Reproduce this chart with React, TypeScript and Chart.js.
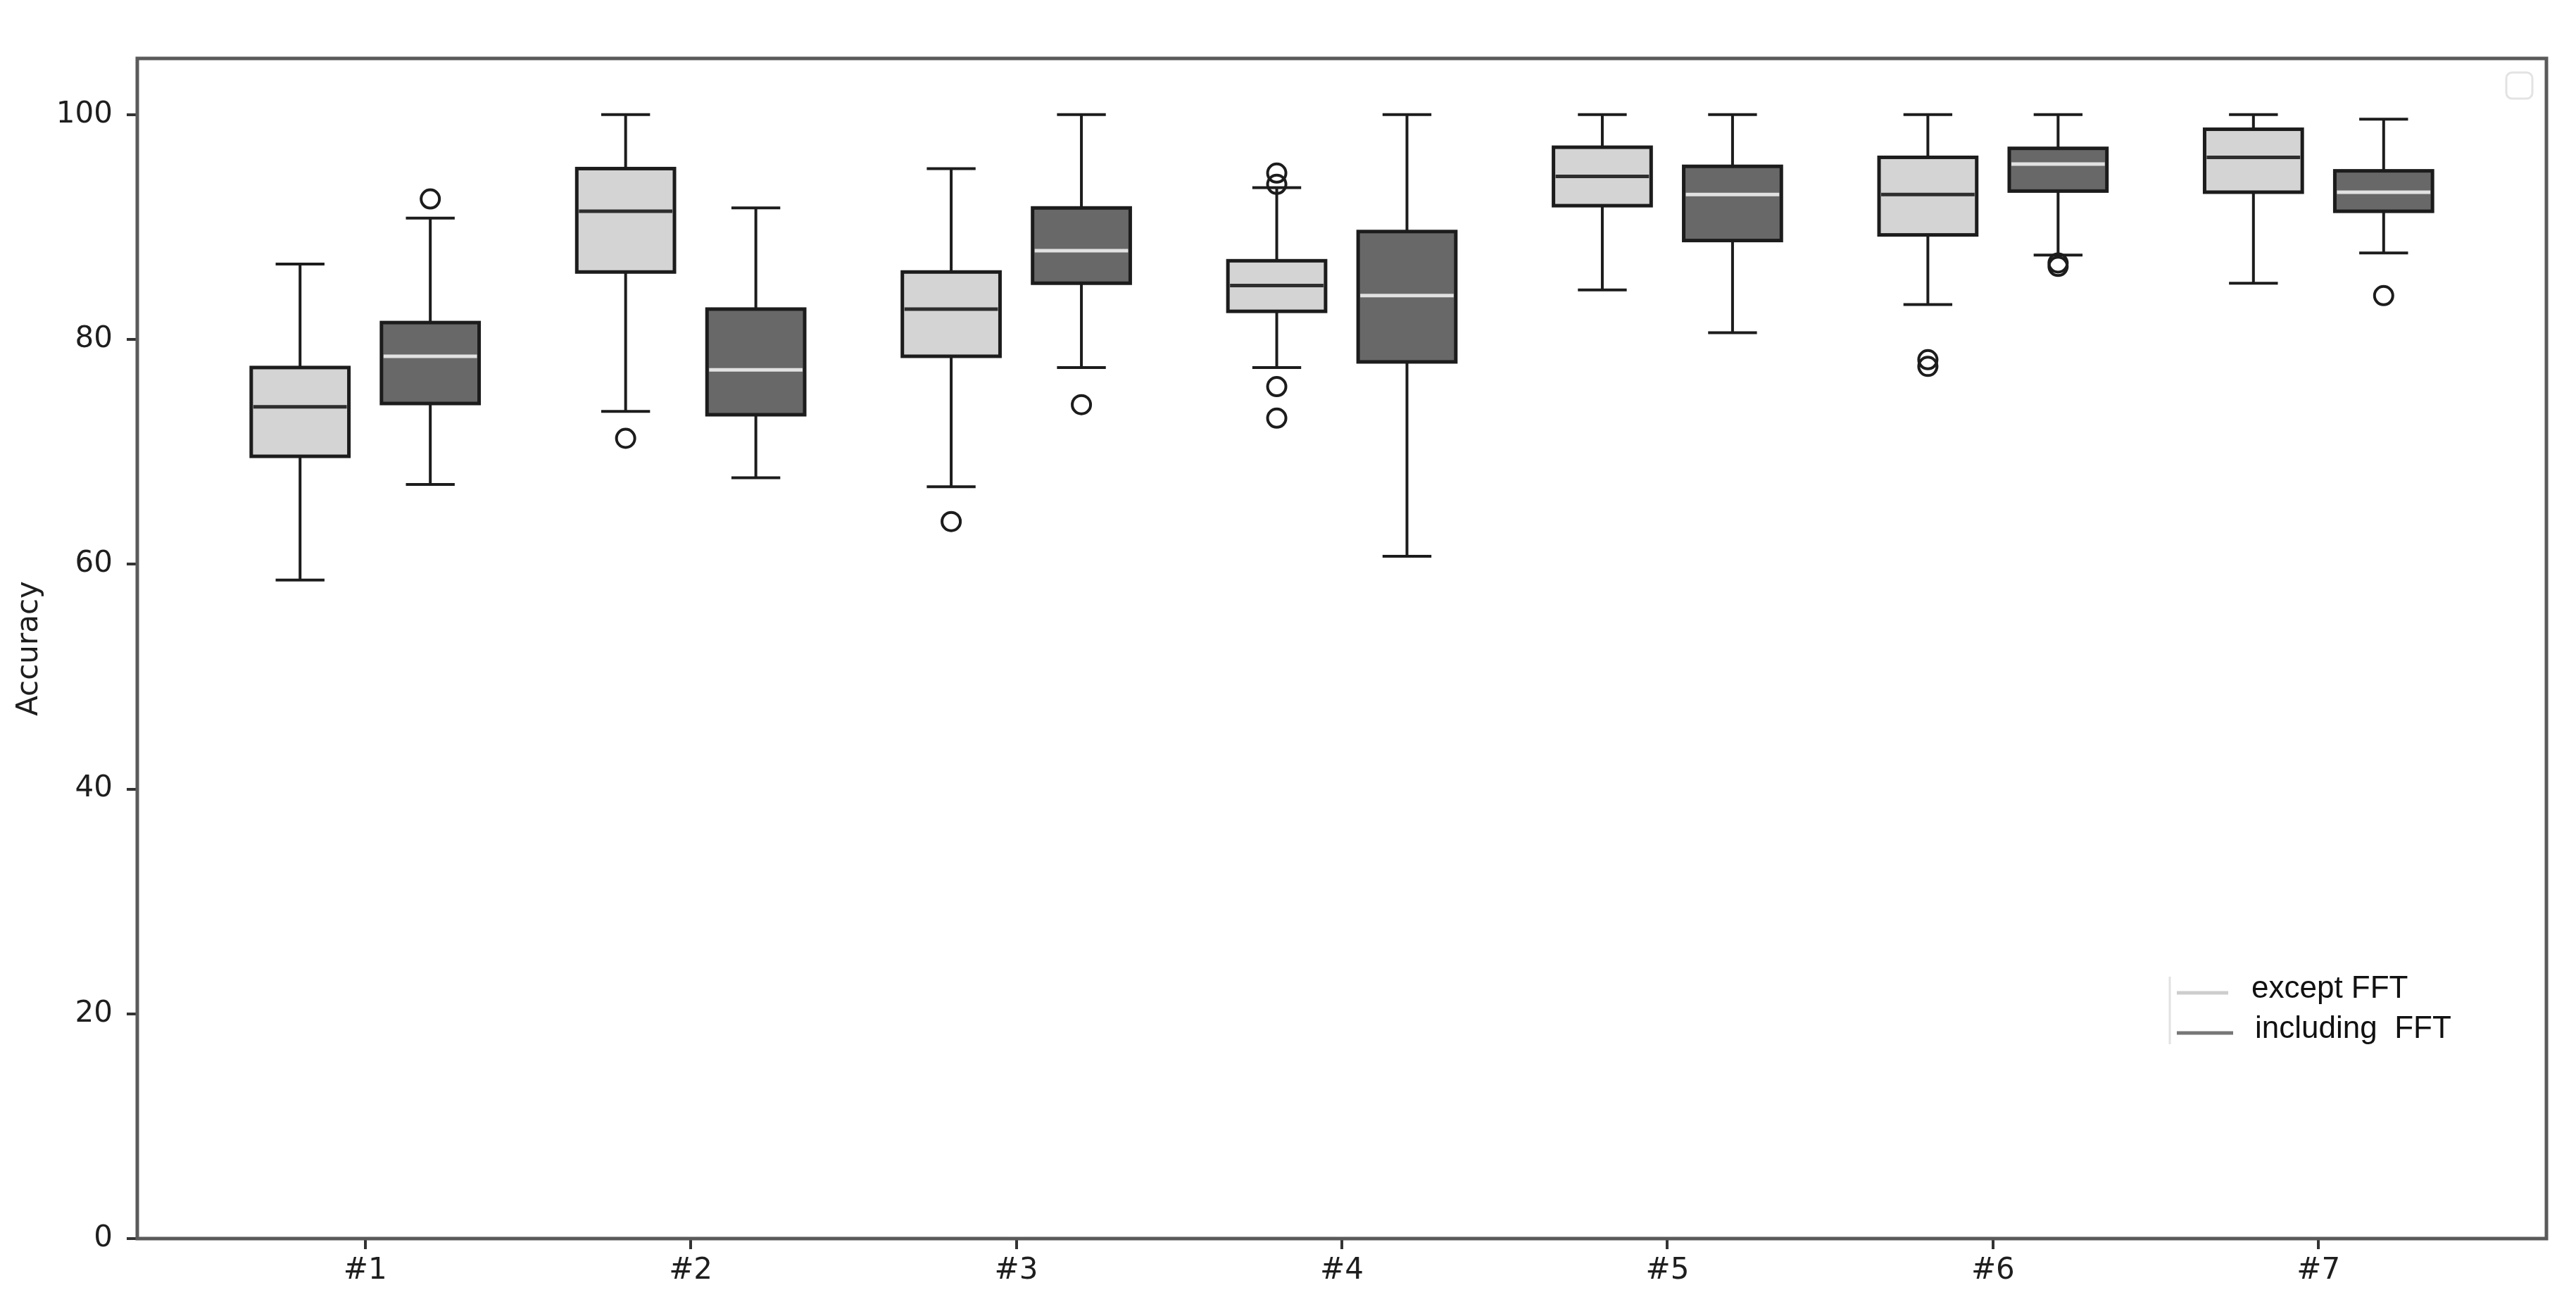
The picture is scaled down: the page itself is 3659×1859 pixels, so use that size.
import { useEffect, useRef } from 'react'
import { Chart, registerables } from 'chart.js'

Chart.register(...registerables)

const categories = ['#1', '#2', '#3', '#4', '#5', '#6', '#7']

// except FFT (light boxes)
const exceptWhiskerLow = [58.6, 73.6, 66.9, 77.5, 84.4, 83.1, 85.0]
const exceptQ1 = [69.6, 86.0, 78.5, 82.5, 91.9, 89.3, 93.1]
const exceptMedian = [74.0, 91.4, 82.7, 84.8, 94.5, 92.9, 96.2]
const exceptQ3 = [77.5, 95.2, 86.0, 87.0, 97.1, 96.2, 98.7]
const exceptWhiskerHigh = [86.7, 100, 95.2, 93.5, 100, 100, 100]
const exceptOutliers = [[], [71.2], [63.8], [94.8, 93.8, 75.8, 73.0], [], [78.2, 77.6], []]

// including FFT (dark boxes)
const includingWhiskerLow = [67.1, 67.7, 77.5, 60.7, 80.6, 87.5, 87.7]
const includingQ1 = [74.3, 73.3, 85.0, 78.0, 88.8, 93.2, 91.4]
const includingMedian = [78.5, 77.3, 87.9, 83.9, 92.9, 95.6, 93.1]
const includingQ3 = [81.5, 82.7, 91.7, 89.6, 95.4, 97.0, 95.0]
const includingWhiskerHigh = [90.8, 91.7, 100, 100, 100, 100, 99.6]
const includingOutliers = [[92.5], [], [74.2], [], [], [86.8, 86.5], [83.9]]

const yTicks = [0, 20, 40, 60, 80, 100]

const OFFSET = 0.2
const HALF_BOX = 0.15
const EDGE = '#1c1c1c'
const SPINE = '#5a5a5a'
const TEXT = '#1e1e1e'

const series = [
  {
    label: 'except FFT',
    offset: -OFFSET,
    fill: '#d4d4d4',
    medianColor: '#2e2e2e',
    legendColor: '#cdcdcd',
    lo: exceptWhiskerLow,
    q1: exceptQ1,
    med: exceptMedian,
    q3: exceptQ3,
    hi: exceptWhiskerHigh,
    outliers: exceptOutliers,
  },
  {
    label: 'including  FFT',
    offset: OFFSET,
    fill: '#686868',
    medianColor: '#e2e2e2',
    legendColor: '#767676',
    lo: includingWhiskerLow,
    q1: includingQ1,
    med: includingMedian,
    q3: includingQ3,
    hi: includingWhiskerHigh,
    outliers: includingOutliers,
  },
]

const boxPlugin = {
  id: 'boxes',
  beforeDatasetsDraw(chart: Chart) {
    const { ctx } = chart
    const x = chart.scales.x
    const y = chart.scales.y
    ctx.save()
    series.forEach((s) => {
      categories.forEach((_, i) => {
        const c = i + s.offset
        const cx = x.getPixelForValue(c)
        const left = x.getPixelForValue(c - HALF_BOX)
        const right = x.getPixelForValue(c + HALF_BOX)
        const capL = x.getPixelForValue(c - HALF_BOX / 2)
        const capR = x.getPixelForValue(c + HALF_BOX / 2)
        const yLo = y.getPixelForValue(s.lo[i])
        const yQ1 = y.getPixelForValue(s.q1[i])
        const yMed = y.getPixelForValue(s.med[i])
        const yQ3 = y.getPixelForValue(s.q3[i])
        const yHi = y.getPixelForValue(s.hi[i])

        ctx.strokeStyle = EDGE
        ctx.lineWidth = 4
        ctx.beginPath()
        ctx.moveTo(cx, yQ3)
        ctx.lineTo(cx, yHi)
        ctx.moveTo(cx, yQ1)
        ctx.lineTo(cx, yLo)
        ctx.moveTo(capL, yHi)
        ctx.lineTo(capR, yHi)
        ctx.moveTo(capL, yLo)
        ctx.lineTo(capR, yLo)
        ctx.stroke()

        ctx.fillStyle = s.fill
        ctx.fillRect(left, yQ3, right - left, yQ1 - yQ3)
        ctx.lineWidth = 5
        ctx.strokeRect(left, yQ3, right - left, yQ1 - yQ3)

        ctx.strokeStyle = s.medianColor
        ctx.lineWidth = 5
        ctx.beginPath()
        ctx.moveTo(left + 3, yMed)
        ctx.lineTo(right - 3, yMed)
        ctx.stroke()
      })
    })
    ctx.restore()
  },
  afterDraw(chart: Chart) {
    const { ctx, chartArea: a } = chart
    ctx.save()
    // frame
    ctx.strokeStyle = SPINE
    ctx.lineWidth = 5
    ctx.strokeRect(a.left, a.top, a.right - a.left, a.bottom - a.top)

    // empty legend at top right
    ctx.strokeStyle = '#e3e3e3'
    ctx.lineWidth = 3
    ctx.beginPath()
    ctx.roundRect(a.right - 57, a.top + 20, 37, 37, 8)
    ctx.stroke()

    // legend lower right
    const lx = a.right - 535
    ctx.strokeStyle = '#e2e2e2'
    ctx.lineWidth = 3
    ctx.beginPath()
    ctx.moveTo(lx, a.top + 1304)
    ctx.lineTo(lx, a.top + 1400)
    ctx.stroke()

    ctx.font = '44px "Liberation Sans", Arial, sans-serif'
    ctx.fillStyle = '#111'
    ctx.textBaseline = 'middle'
    ctx.textAlign = 'left'
    series.forEach((s, k) => {
      const ly = a.top + 1327 + k * 57
      ctx.strokeStyle = s.legendColor
      ctx.lineWidth = 5
      ctx.beginPath()
      ctx.moveTo(lx + 10, ly)
      ctx.lineTo(lx + 83 + k * 7, ly)
      ctx.stroke()
      ctx.fillText(s.label, lx + 116 + k * 5, ly - 5)
    })
    ctx.restore()
  },
}

export default function App() {
  const canvasRef = useRef<HTMLCanvasElement>(null)

  useEffect(() => {
    if (!canvasRef.current) return
    const font = { family: '"DejaVu Sans", sans-serif', size: 42 }

    const chart = new Chart(canvasRef.current, {
      type: 'scatter',
      data: {
        datasets: series.map((s) => ({
          label: s.label,
          data: s.outliers.flatMap((vals, i) => vals.map((v) => ({ x: i + s.offset, y: v }))),
          pointStyle: 'circle',
          pointRadius: 13,
          pointHoverRadius: 13,
          borderWidth: 4,
          borderColor: EDGE,
          backgroundColor: 'rgba(0,0,0,0)',
        })),
      },
      options: {
        animation: false,
        responsive: false,
        devicePixelRatio: 1,
        layout: { padding: { top: 83, right: 42, bottom: 0, left: 0 } },
        plugins: {
          legend: { display: false },
          tooltip: { enabled: false },
        },
        scales: {
          x: {
            type: 'linear',
            min: -0.7,
            max: categories.length - 0.3,
            afterBuildTicks: (scale) => {
              scale.ticks = categories.map((_, i) => ({ value: i }))
            },
            afterFit: (scale) => {
              scale.height = 100
            },
            ticks: {
              color: TEXT,
              font,
              padding: 6,
              autoSkip: false,
              maxRotation: 0,
              callback: (v) => categories[Number(v)] ?? '',
            },
            grid: {
              drawOnChartArea: false,
              drawTicks: true,
              tickLength: 15,
              color: '#333',
              lineWidth: 4,
            },
            border: { display: false },
          },
          y: {
            min: 0,
            max: 105,
            afterBuildTicks: (scale) => {
              scale.ticks = yTicks.map((v) => ({ value: v }))
            },
            afterFit: (scale) => {
              scale.width = 195
            },
            ticks: { color: TEXT, font, padding: 20 },
            grid: {
              drawOnChartArea: false,
              drawTicks: true,
              tickLength: 15,
              color: '#333',
              lineWidth: 4,
            },
            border: { display: false },
            title: {
              display: true,
              text: 'Accuracy',
              color: TEXT,
              font,
              padding: { top: 17, bottom: 0 },
            },
          },
        },
      },
      plugins: [boxPlugin],
    })

    return () => {
      chart.destroy()
    }
  }, [])

  return (
    <div style={{ position: 'fixed', left: 0, top: 0, width: 3659, height: 1859, background: '#fff' }}>
      <canvas ref={canvasRef} width={3659} height={1859} style={{ width: 3659, height: 1859 }} />
    </div>
  )
}
